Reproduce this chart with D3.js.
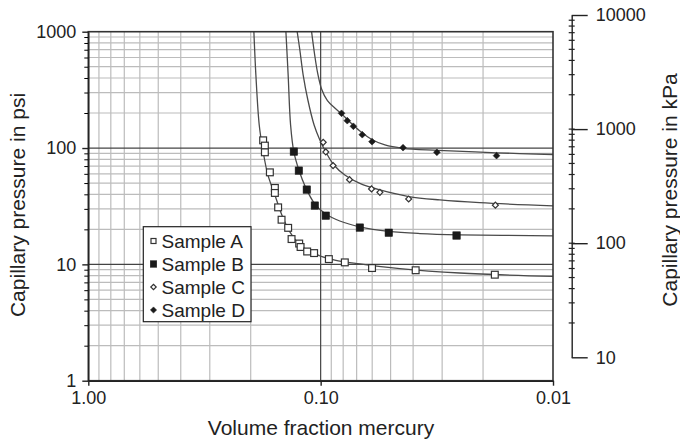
<!DOCTYPE html>
<html>
<head>
<meta charset="utf-8">
<script src="https://cdn.jsdelivr.net/npm/d3@7"></script>
<style>
body{margin:0;background:#fff}
text{font-family:"Liberation Sans",Arial,sans-serif;fill:#222}
</style>
</head>
<body>
<svg id="chart" width="680" height="443"></svg>
<script>
// measured points (volume fraction, pressure psi)
var sampleNames = ["Sample A","Sample B","Sample C","Sample D"]

var volA = [0.1768,0.1738,0.1738,0.1654,0.1574,0.1574,0.1524,0.1473,0.1380,0.1334,0.1237,0.1220,0.1143,0.1067,0.0922,0.0787,0.0601,0.0390,0.0178]
var psiA = [116.5,104.9,91.9,61.8,45.4,41.1,30.9,24.2,20.6,16.5,15.1,14.1,12.9,12.5,11.1,10.4,9.3,8.9,8.15]
var volB = [0.1304,0.1241,0.1147,0.1059,0.0950,0.0678,0.0509,0.0260]
var psiB = [93.1,63.9,43.9,32.0,26.2,20.7,18.7,17.7]
var volC = [0.0975,0.0950,0.0884,0.0751,0.0604,0.0556,0.0418,0.0177]
var psiC = [111.9,92.6,70.6,53.5,44.5,41.6,36.5,32.3]
var volD = [0.0813,0.0768,0.0723,0.0662,0.0601,0.0442,0.0316,0.0175]
var psiD = [198.9,171.8,153.8,130.2,113.4,100.7,91.9,86.0]

// fitted curves
var fitVolA = [0.1938,0.190,0.1838,0.1773,0.1687,0.1574,0.1469,0.1357,0.1229,0.1059,0.0869,0.0678,0.0456,0.0252,0.01]
var fitPsiA = [1000,424,157.8,96.2,58.7,39.5,26.6,19.0,14.7,12.3,10.9,10.1,9.2,8.43,7.87]
var fitVolB = [0.1411,0.138,0.1347,0.1304,0.1241,0.1158,0.1059,0.095,0.0827,0.0678,0.0509,0.0374,0.0252,0.01]
var fitPsiB = [1000,424,157.8,92.5,64.7,45.4,33.0,27.1,23.6,21.0,19.2,18.4,17.96,17.6]
var fitVolC = [0.1262,0.1229,0.1189,0.1135,0.1067,0.1008,0.095,0.0877,0.0787,0.0678,0.0556,0.0418,0.0307,0.0207,0.01]
var fitPsiC = [1000,696,424,258.8,157.8,117.3,92.5,71.5,58.7,49.6,43.6,38.3,35.8,33.9,31.8]
var fitVolD = [0.1094,0.1062,0.1030,0.0990,0.0935,0.0869,0.0811,0.0749,0.0678,0.0602,0.0529,0.0443,0.0313,0.0175,0.01]
var fitPsiD = [1000,640,440,320,255,220.9,196.2,167.4,140.1,118.4,106.2,99.5,95.6,91.0,88.0]

var xTicks = [1, 0.1, 0.01]
var xTickLabels = ["1.00","0.10","0.01"]
var yTicks = [1, 10, 100, 1000]
var kpaTicks = [10, 100, 1000, 10000]

initChart()
function initChart(){
  var left = 88.3, right = 553, top = 31.7, bottom = 380.7
  var svg = d3.select("#chart")

  var x = d3.scaleLog().domain([1, 0.01]).range([left, right])
  var y = d3.scaleLog().domain([1, 1000]).range([bottom, top])
  var yk = d3.scaleLog().domain([10, 10000]).range([357.3, 15])

  var zip = function(a, b){ return a.map(function(d,i){ return [d, b[i]] }) }
  var series = [
    {name:sampleNames[0], pts:zip(volA,psiA), fit:zip(fitVolA,fitPsiA), shape:"sq", fill:"#fff", size:6.8, lsize:5},
    {name:sampleNames[1], pts:zip(volB,psiB), fit:zip(fitVolB,fitPsiB), shape:"sq", fill:"#1a1a1a", size:7.5, lsize:6.5},
    {name:sampleNames[2], pts:zip(volC,psiC), fit:zip(fitVolC,fitPsiC), shape:"di", fill:"#fff", size:4.2, lsize:3.8},
    {name:sampleNames[3], pts:zip(volD,psiD), fit:zip(fitVolD,fitPsiD), shape:"di", fill:"#1a1a1a", size:4.8, lsize:4.4}
  ]

  svg.append("defs").append("clipPath").attr("id","plotclip")
    .append("rect").attr("x",left).attr("y",top).attr("width",right-left).attr("height",bottom-top)

  // grid
  var xMinor = x.ticks().filter(function(d){ return xTicks.indexOf(d) < 0 })
  var yMinor = y.ticks().filter(function(d){ return yTicks.indexOf(d) < 0 })
  var grid = svg.append("g")
  grid.selectAll(".vx").data(xMinor).enter().append("line")
    .attr("x1",function(d){return x(d)}).attr("x2",function(d){return x(d)})
    .attr("y1",top).attr("y2",bottom)
    .attr("stroke","#bcbcbc").attr("stroke-width",1.2)
  grid.selectAll(".hy").data(yMinor).enter().append("line")
    .attr("y1",function(d){return y(d)}).attr("y2",function(d){return y(d)})
    .attr("x1",left).attr("x2",right)
    .attr("stroke","#bcbcbc").attr("stroke-width",1.2)
  grid.selectAll(".vmaj").data([0.1]).enter().append("line")
    .attr("x1",function(d){return x(d)}).attr("x2",function(d){return x(d)})
    .attr("y1",top).attr("y2",bottom)
    .attr("stroke","#444").attr("stroke-width",1.2)
  grid.selectAll(".hmaj").data([10,100]).enter().append("line")
    .attr("y1",function(d){return y(d)}).attr("y2",function(d){return y(d)})
    .attr("x1",left).attr("x2",right)
    .attr("stroke","#444").attr("stroke-width",1.2)

  // fitted lines
  var line = d3.line()
    .x(function(d){return x(d[0])})
    .y(function(d){return y(d[1])})
    .curve(d3.curveCatmullRom.alpha(0.5))
  svg.append("g").attr("clip-path","url(#plotclip)")
    .selectAll("path").data(series).enter().append("path")
    .attr("d",function(d){ return line(d.fit) })
    .attr("fill","none").attr("stroke","#4a4a4a").attr("stroke-width",1.3)

  // markers
  function drawMark(g, s, cx, cy, sz){
    var r = g.append("rect")
      .attr("x",-sz/2).attr("y",-sz/2).attr("width",sz).attr("height",sz)
      .attr("fill",s.fill)
      .attr("stroke", s.fill=="#fff" ? "#333" : "#1a1a1a")
      .attr("stroke-width", s.fill=="#fff" ? 1.2 : 0.5)
    var t = "translate("+cx+","+cy+")"
    if(s.shape=="di") t += " rotate(45)"
    r.attr("transform",t)
  }
  var marks = svg.append("g")
  series.forEach(function(s){
    s.pts.forEach(function(p){
      drawMark(marks, s, x(p[0]), y(p[1]), s.size)
    })
  })

  // legend
  var lg = svg.append("g")
  lg.append("rect").attr("x",143.3).attr("y",226.7).attr("width",107.7).attr("height",95)
    .attr("fill","#fff").attr("stroke","#222").attr("stroke-width",1.2)
  series.forEach(function(s,i){
    var ly = 241 + i*23
    drawMark(lg, s, 153.5, ly, s.lsize)
    lg.append("text").text(s.name)
      .attr("x",161.5).attr("y",ly).attr("dy","0.36em")
      .attr("font-size",19)
  })

  // frame
  svg.append("rect").attr("x",left).attr("y",top).attr("width",right-left).attr("height",bottom-top)
    .attr("fill","none").attr("stroke","#333").attr("stroke-width",1.6)

  // left axis
  svg.append("g").attr("transform","translate("+left+",0)")
    .call(d3.axisLeft(y).tickValues(yMinor).tickSize(4).tickFormat(""))
    .call(function(g){ g.select(".domain").remove() })
  svg.append("g").attr("transform","translate("+left+",0)")
    .call(d3.axisLeft(y).tickValues(yTicks).tickSize(6).tickSizeOuter(0).tickPadding(6).tickFormat(d3.format("d")))
    .attr("class","yaxis")

  // bottom axis
  svg.append("g").attr("transform","translate(0,"+bottom+")")
    .call(d3.axisBottom(x).tickValues(xTicks).tickSize(5).tickSizeOuter(0).tickPadding(6)
      .tickFormat(function(d,i){ return xTickLabels[i] }))
    .attr("class","xaxis")

  // right kPa axis
  var rx = 571.7
  var kMinor = yk.ticks().filter(function(d){ return d>10 && d<10000 })
  svg.append("g").selectAll("line").data(kMinor).enter().append("line")
    .attr("x1",rx-3).attr("x2",rx+3)
    .attr("y1",function(d){return yk(d)}).attr("y2",function(d){return yk(d)})
    .attr("stroke","#222").attr("stroke-width",1.2)
  svg.append("g").attr("transform","translate("+rx+",0)")
    .call(d3.axisRight(yk).tickValues(kpaTicks).tickSize(16).tickSizeOuter(0).tickPadding(8).tickFormat(d3.format("d")))
    .attr("class","kaxis")

  svg.selectAll(".yaxis,.xaxis,.kaxis").selectAll("line,path").attr("stroke","#222").attr("stroke-width",1.4)
  svg.selectAll(".tick text").attr("font-size",18).attr("fill","#222")
    .style("font-family","'Liberation Sans',Arial,sans-serif")
  svg.selectAll("g").filter(function(){ return this.getAttribute("font-size")=="10" }).attr("font-size",null)

  // titles
  svg.append("text").text("Capillary pressure in psi")
    .attr("transform","translate(25,205) rotate(-90)")
    .attr("text-anchor","middle").attr("font-size",21)
  svg.append("text").text("Capillary pressure in kPa")
    .attr("transform","translate(677,190) rotate(-90)")
    .attr("text-anchor","middle").attr("font-size",21)
  svg.append("text").text("Volume fraction mercury")
    .attr("x",321).attr("y",435)
    .attr("text-anchor","middle").attr("font-size",21)
}
</script>
</body>
</html>
